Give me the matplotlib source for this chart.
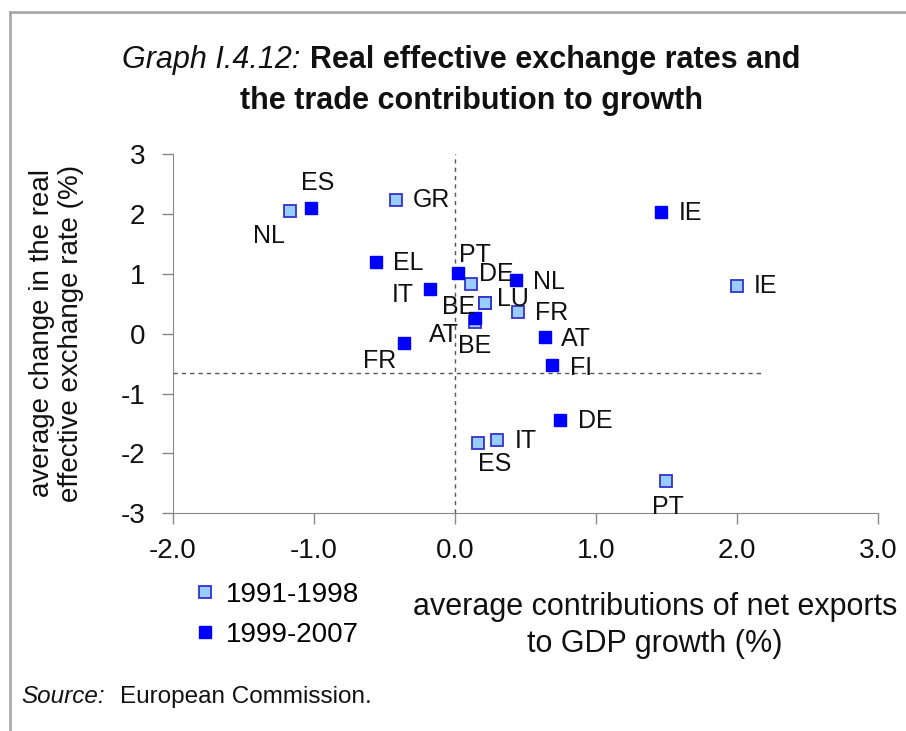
import matplotlib
matplotlib.use('Agg')
import matplotlib.pyplot as plt
from matplotlib.lines import Line2D

plt.rcParams['font.family'] = ['Liberation Sans', 'DejaVu Sans']
plt.rcParams['axes.unicode_minus'] = False

# 1991-1998 (light squares)
early_codes = ['NL', 'GR', 'DE', 'BE', 'LU', 'FR', 'AT', 'IE', 'ES', 'IT', 'PT']
early_x = [-1.17, -0.42, 0.11, 0.21, 0.21, 0.45, 0.14, 2.00, 0.165, 0.30, 1.50]
early_y = [2.05, 2.23, 0.83, 0.51, 0.51, 0.36, 0.19, 0.79, -1.82, -1.78, -2.47]

# 1999-2007 (dark squares)
late_codes = ['ES', 'EL', 'PT', 'NL', 'IT', 'BE', 'FR', 'AT', 'FI', 'DE', 'IE']
late_x = [-1.02, -0.56, 0.02, 0.435, -0.18, 0.14, -0.36, 0.64, 0.69, 0.745, 1.46]
late_y = [2.10, 1.20, 1.01, 0.90, 0.74, 0.26, -0.15, -0.06, -0.52, -1.45, 2.03]

series_names = ['1991-1998', '1999-2007']
ref_y = -0.65   # horizontal dashed reference
ref_x_end = 2.18

# label offsets in pixels (dx, dy up), alignment
early_off = {
    'NL': (-21, -25, 'center'), 'GR': (17, 0, 'left'), 'DE': (8, 10, 'left'),
    'BE': (-9, -4, 'right'), 'LU': (12, 4, 'left'), 'FR': (17, -1, 'left'),
    'AT': (-16, -13, 'right'), 'IE': (17, 0, 'left'), 'ES': (16, -21, 'center'),
    'IT': (17, -1, 'left'), 'PT': (1, -26, 'center'),
}
late_off = {
    'ES': (6, 25, 'center'), 'EL': (17, -1, 'left'), 'PT': (17, 18, 'center'),
    'NL': (17, -2, 'left'), 'IT': (-16, -6, 'right'), 'BE': (0, -28, 'center'),
    'FR': (-25, -18, 'center'), 'AT': (16, -2, 'left'), 'FI': (18, -3, 'left'),
    'DE': (18, -1, 'left'), 'IE': (18, -1, 'left'),
}

light_fc, light_ec = '#99CCFF', '#3333CC'
dark_c = '#0000FF'
txt = '#111111'

fig = plt.figure(figsize=(9.06, 7.31), dpi=100)
ax = fig.add_axes([0.191, 0.298, 0.778, 0.491])

ax.axvline(0, color='#555555', lw=1, ls=(0, (3, 3)), zorder=1)
ax.plot([-2.0, ref_x_end], [ref_y, ref_y], color='#555555', lw=1,
        ls=(0, (3, 3)), zorder=1)

ax.plot(early_x, early_y, ls='none', marker='s', ms=8.5, mfc=light_fc,
        mec=light_ec, mew=1.3, zorder=3)
ax.plot(late_x, late_y, ls='none', marker='s', ms=8.5, mfc=dark_c,
        mec=dark_c, zorder=4)

for codes, xs, ys, offs in [(early_codes, early_x, early_y, early_off),
                            (late_codes, late_x, late_y, late_off)]:
    for c, x, y in zip(codes, xs, ys):
        dx, dy, ha = offs[c]
        ax.annotate(c, (x, y), xytext=(dx, dy), textcoords='offset pixels',
                    ha=ha, va='center', fontsize=18, color=txt, zorder=5)

ax.set_xlim(-2.0, 3.0)
ax.set_ylim(-3, 3)
ax.set_xticks([-2, -1, 0, 1, 2, 3])
ax.set_xticklabels(['-2.0', '-1.0', '0.0', '1.0', '2.0', '3.0'])
ax.set_yticks([-3, -2, -1, 0, 1, 2, 3])
for s in ['top', 'right']:
    ax.spines[s].set_visible(False)
for s in ['left', 'bottom']:
    ax.spines[s].set_color('#888888')
ax.tick_params(axis='both', labelsize=20, colors='#888888', labelcolor=txt,
               length=8, width=1)
ax.tick_params(axis='x', pad=10)
ax.tick_params(axis='y', pad=12)

fig.text(0.062, 0.544, 'average change in the real\neffective exchange rate (%)',
         rotation=90, ha='center', va='center', fontsize=20, color=txt,
         linespacing=1.15)

fig.text(0.723, 0.144, 'average contributions of net exports\nto GDP growth (%)',
         ha='center', va='center', fontsize=22, color=txt, linespacing=1.32)

# legend
fig.legend(handles=[
    Line2D([], [], ls='none', marker='s', ms=8.5, mfc=light_fc, mec=light_ec,
           mew=1.3, label=series_names[0]),
    Line2D([], [], ls='none', marker='s', ms=8.5, mfc=dark_c, mec=dark_c,
           label=series_names[1])],
    loc='center left', bbox_to_anchor=(0.186, 0.159), frameon=False,
    fontsize=20, handlelength=0.8, handletextpad=0.35, labelspacing=0.5)

# title
fig.text(0.135, 0.918, 'Graph I.4.12:', style='italic', fontsize=22,
         ha='left', va='center', color=txt)
fig.text(0.342, 0.918, 'Real effective exchange rates and', fontweight='bold',
         fontsize=22, ha='left', va='center', color=txt)
fig.text(0.52, 0.862, 'the trade contribution to growth', fontweight='bold',
         fontsize=22, ha='center', va='center', color=txt)

fig.text(0.024, 0.047, 'Source:', style='italic', fontsize=17.5, ha='left',
         va='center', color=txt)
fig.text(0.132, 0.047, 'European Commission.', fontsize=17.5, ha='left',
         va='center', color=txt)

# frame lines on left and top
fig.add_artist(Line2D([0.011, 0.011], [0, 0.984], color='#aaaaaa', lw=2,
                      transform=fig.transFigure))
fig.add_artist(Line2D([0.011, 1.0], [0.984, 0.984], color='#aaaaaa', lw=2,
                      transform=fig.transFigure))

fig.savefig('out.png', dpi=100)
